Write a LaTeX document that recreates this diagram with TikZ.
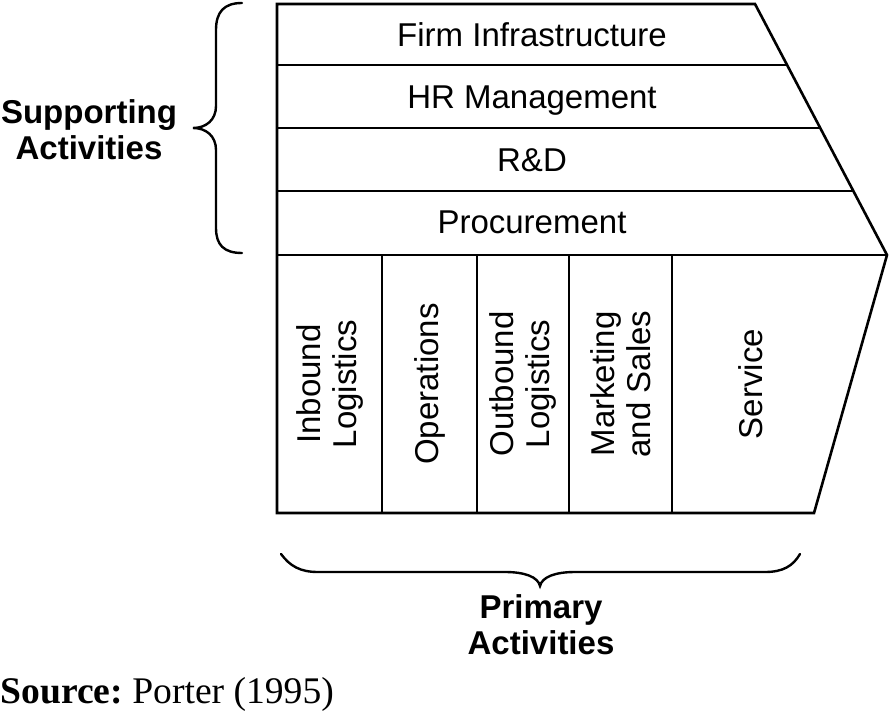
\documentclass[tikz,border=0pt]{standalone}
\usepackage{fontspec}
\setmainfont{Liberation Serif}
\newfontfamily\arialf{Liberation Sans}
\begin{document}
\begin{tikzpicture}[x=0.5pt,y=-0.5pt,
  lbl/.style={font=\arialf\fontsize{16.5}{18}\selectfont, inner sep=0pt, align=center},
  hlbl/.style={lbl, anchor=base},
  blbl/.style={font=\arialf\bfseries\fontsize{16.5}{18}\selectfont, inner sep=0pt, align=center},
  vlbl/.style={lbl, rotate=90},
  frame/.style={line width=1.3pt, line join=miter},
  brc/.style={line width=1.2pt, line cap=round}]
\useasboundingbox (0,0) rectangle (892,721);
% outer shape
\coordinate (tl) at (277,4);
\coordinate (tr) at (755,4);
\coordinate (tip) at (887,255);
\coordinate (br) at (814,513);
\coordinate (bl) at (277,513);
\draw[frame] (tl) -- (tr) -- (tip) -- (br) -- (bl) -- cycle;
\draw[frame] (277,65) -- (787.1,65);
\draw[frame] (277,128) -- (820.2,128);
\draw[frame] (277,191) -- (853.3,191);
\draw[frame] (277,255) -- (tip);
\foreach \x in {382,477,569,672} \draw[frame] (\x,255) -- (\x,513);
% support labels
\node[hlbl] (firm) at (532,46.5) {Firm Infrastructure};
\node[hlbl] (hr) at (532,108.5) {HR Management};
\node[hlbl] (rd) at (532,171.5) {R\&D};
\node[hlbl] (proc) at (532,233.5) {Procurement};
% primary labels
\node[vlbl] (inb) at (329.5,384) {Inbound\\Logistics};
\node[vlbl] (ops) at (429.5,384) {Operations};
\node[vlbl] (outb) at (523,384) {Outbound\\Logistics};
\node[vlbl] (mkt) at (620.5,384) {Marketing\\and Sales};
\node[vlbl] (serv) at (751,384) {Service};
% braces
\draw[brc] (242,3) .. controls (224,3) and (216,12) .. (216,30) -- (216,106)
  .. controls (216,120) and (206,128) .. (193,128)
  .. controls (206,128) and (216,136) .. (216,150) -- (216,228)
  .. controls (216,245) and (224,253) .. (242,253);
\draw[brc] (281,554) .. controls (290,566) and (300,572) .. (318,572) -- (505,572)
  .. controls (525,572) and (538,577) .. (540,586)
  .. controls (542,577) and (555,572) .. (575,572) -- (765,572)
  .. controls (783,572) and (793,566) .. (800,554);
\node[blbl] (sup) at (89,130) {Supporting\\Activities};
\node[blbl] (prim) at (541,625) {Primary\\Activities};
\node[anchor=base west, inner sep=0pt, font=\fontsize{18.8}{20}\selectfont] (src) at (0,703) {\frenchspacing\textbf{Source:} Porter (1995)};
\end{tikzpicture}
\end{document}
